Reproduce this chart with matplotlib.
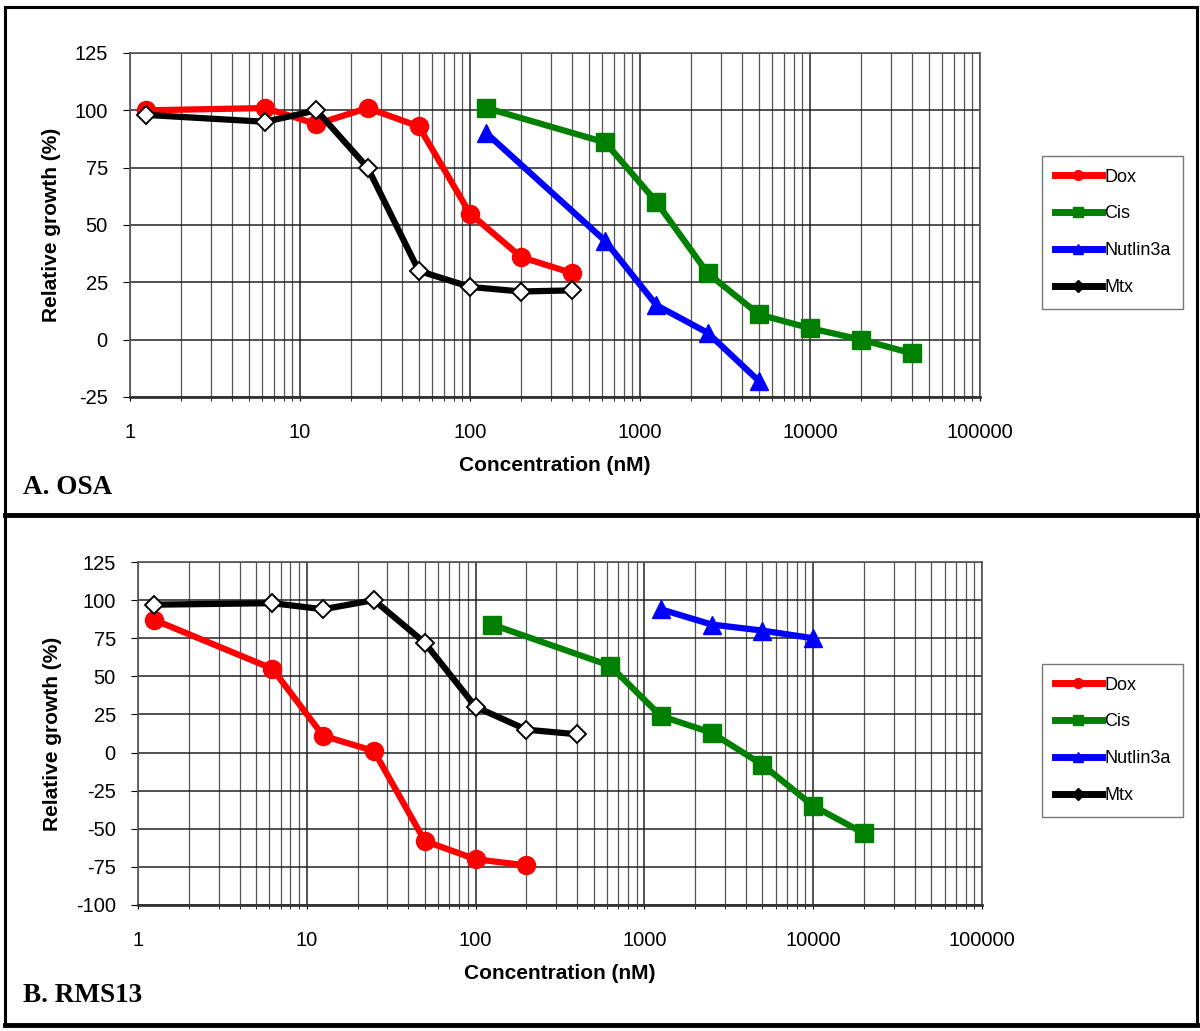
import matplotlib
matplotlib.use('Agg')
import matplotlib.pyplot as plt
from matplotlib.lines import Line2D
from matplotlib.ticker import LogLocator, FixedLocator, NullFormatter
import numpy as np

plt.rcParams['font.family'] = ['Liberation Sans', 'DejaVu Sans']

# Panel A (OSA)
conc_dox_a = [1.25, 6.25, 12.5, 25, 50, 100, 200, 400]
dox_a = [100, 101, 94, 101, 93, 55, 36, 29]
conc_cis_a = [125, 625, 1250, 2500, 5000, 10000, 20000, 40000]
cis_a = [101, 86, 60, 29, 11, 5, 0, -6]
conc_nut_a = [125, 625, 1250, 2500, 5000]
nut_a = [90, 43, 15, 3, -18]
conc_mtx_a = [1.25, 6.25, 12.5, 25, 50, 100, 200, 400]
mtx_a = [98, 95, 100, 75, 30, 23, 21, 21.5]

# Panel B (RMS13)
conc_dox_b = [1.25, 6.25, 12.5, 25, 50, 100, 200]
dox_b = [87, 55, 11, 1, -58, -70, -74]
conc_cis_b = [125, 625, 1250, 2500, 5000, 10000, 20000]
cis_b = [84, 57, 24, 13, -8, -35, -53]
conc_nut_b = [1250, 2500, 5000, 10000]
nut_b = [94, 84, 80, 75]
conc_mtx_b = [1.25, 6.25, 12.5, 25, 50, 100, 200, 400]
mtx_b = [97, 98, 94, 100, 72, 30, 15, 12]

x_ticks = [1, 10, 100, 1000, 10000, 100000]
x_tick_labels = ['1', '10', '100', '1000', '10000', '100000']

fig = plt.figure(figsize=(12, 10.31), dpi=100)


def draw_panel(ax, data, ylim, yticks, label, label_y, legend_box):
    (cd, d), (cc, c), (cn, n), (cm, m) = data
    ax.plot(cd, d, color='#ff0000', lw=4.5, marker='o', ms=13, label='Dox', zorder=4)
    ax.plot(cc, c, color='#008000', lw=4.5, marker='s', ms=12.5, label='Cis', zorder=4)
    ax.plot(cn, n, color='#0000ff', lw=4.5, marker='^', ms=13, label='Nutlin3a', zorder=4)
    ax.plot(cm, m, color='black', lw=4.5, marker='D', ms=9, mfc='white', mec='black',
            mew=1.4, label='Mtx', zorder=5)
    ax.set_xscale('log')
    ax.set_xlim(1, 100000)
    ax.set_ylim(*ylim)
    ax.set_yticks(yticks)
    ax.set_yticklabels([str(v) for v in yticks], fontsize=14.5)
    ax.xaxis.set_major_locator(FixedLocator(x_ticks))
    ax.set_xticklabels(x_tick_labels, fontsize=14.5)
    ax.xaxis.set_minor_locator(LogLocator(base=10, subs=np.arange(2, 10)))
    ax.xaxis.set_minor_formatter(NullFormatter())
    ax.grid(True, which='major', axis='both', color='#222222', lw=1.1)
    ax.grid(True, which='minor', axis='x', color='#555555', lw=0.9)
    ax.set_axisbelow(True)
    ax.tick_params(axis='x', which='both', direction='out', length=3, pad=16)
    ax.tick_params(axis='y', which='major', direction='out', length=5, pad=11)
    for s in ax.spines.values():
        s.set_color('#555555')
        s.set_linewidth(1.2)
    ax.spines['bottom'].set_color('#333333')
    ax.spines['bottom'].set_linewidth(2)
    ax.set_ylabel('Relative growth (%)', fontsize=15, fontweight='bold', labelpad=10)
    ax.set_xlabel('Concentration (nM)', fontsize=15, fontweight='bold', labelpad=10)

    handles = [
        Line2D([], [], color='#ff0000', lw=5, marker='o', ms=7),
        Line2D([], [], color='#008000', lw=5, marker='s', ms=7),
        Line2D([], [], color='#0000ff', lw=5, marker='^', ms=7),
        Line2D([], [], color='black', lw=5, marker='D', ms=6),
    ]
    leg = fig.legend(handles, ['Dox', 'Cis', 'Nutlin3a', 'Mtx'], loc='upper left',
                     bbox_to_anchor=legend_box, fontsize=13, frameon=True, fancybox=False,
                     edgecolor='#555555', handlelength=2.6, handletextpad=0.15,
                     labelspacing=1.1, borderpad=0.7, borderaxespad=0)
    leg.get_frame().set_linewidth(1.0)
    fig.text(23 / 1200, label_y, label, fontsize=19.5, fontweight='bold',
             family=['Liberation Serif', 'DejaVu Serif'], va='center', ha='left')


ax_a = fig.add_axes([130 / 1200, 1 - 397 / 1031, 850 / 1200, 344 / 1031])
draw_panel(ax_a,
           [(conc_dox_a, dox_a), (conc_cis_a, cis_a), (conc_nut_a, nut_a), (conc_mtx_a, mtx_a)],
           (-25, 125), [-25, 0, 25, 50, 75, 100, 125], 'A. OSA', 1 - 487 / 1031,
           (1042 / 1200, 1 - 156 / 1031))

ax_b = fig.add_axes([138 / 1200, 1 - 905 / 1031, 844 / 1200, 343 / 1031])
draw_panel(ax_b,
           [(conc_dox_b, dox_b), (conc_cis_b, cis_b), (conc_nut_b, nut_b), (conc_mtx_b, mtx_b)],
           (-100, 125), [-100, -75, -50, -25, 0, 25, 50, 75, 100, 125], 'B. RMS13', 1 - 996 / 1031,
           (1042 / 1200, 1 - 664 / 1031))

# outer frames
def fig_line(x0, y0, x1, y1, lw):
    fig.add_artist(Line2D([x0 / 1200, x1 / 1200], [1 - y0 / 1031, 1 - y1 / 1031],
                          color='black', lw=lw, transform=fig.transFigure, solid_capstyle='projecting'))

fig_line(5, 7, 1197, 7, 2.2)
fig_line(5, 7, 5, 1025, 2.2)
fig_line(1197, 7, 1197, 1025, 2.2)
fig_line(5, 515, 1197, 515, 3.5)
fig_line(5, 1025, 1197, 1025, 3.5)

fig.savefig('out.png', dpi=100)
